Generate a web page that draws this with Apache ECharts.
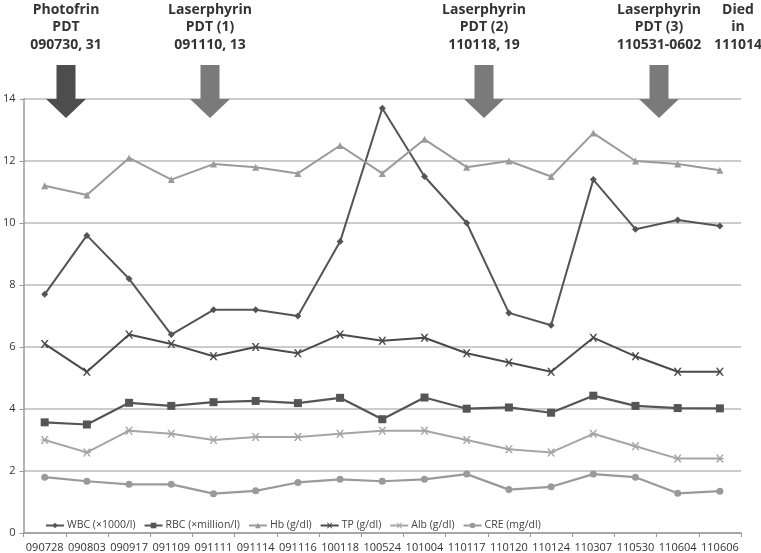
<!DOCTYPE html>
<html><head><meta charset="utf-8">
<script src="https://cdn.jsdelivr.net/npm/echarts@6/dist/echarts.min.js"></script>
<style>html,body{margin:0;padding:0;background:#fff}#c{width:761px;height:553px}</style>
</head><body><div id="c"></div>
<script>
var categories = ['090728','090803','090917','091109','091111','091114','091116','100118','100524','101004','110117','110120','110124','110307','110530','110604','110606'];
var wbc = [7.7,9.6,8.2,6.4,7.2,7.2,7.0,9.4,13.7,11.5,10.0,7.1,6.7,11.4,9.8,10.1,9.9];
var rbc = [3.57,3.5,4.2,4.1,4.22,4.26,4.19,4.36,3.67,4.37,4.01,4.05,3.88,4.43,4.1,4.03,4.02];
var hb = [11.2,10.9,12.1,11.4,11.9,11.8,11.6,12.5,11.6,12.7,11.8,12.0,11.5,12.9,12.0,11.9,11.7];
var tp = [6.1,5.2,6.4,6.1,5.7,6.0,5.8,6.4,6.2,6.3,5.8,5.5,5.2,6.3,5.7,5.2,5.2];
var alb = [3.0,2.6,3.3,3.2,3.0,3.1,3.1,3.2,3.3,3.3,3.0,2.7,2.6,3.2,2.8,2.4,2.4];
var cre = [1.8,1.67,1.57,1.57,1.27,1.36,1.63,1.73,1.67,1.73,1.9,1.4,1.49,1.9,1.8,1.28,1.35];
var seriesNames = ['WBC (×1000/l)','RBC (×million/l)','Hb (g/dl)','TP (g/dl)','Alb (g/dl)','CRE (mg/dl)'];
var annotations = [
  {x:66, lines:['Photofrin','PDT','090730, 31'], arrow:true, color:'#4d4d4d'},
  {x:210, lines:['Laserphyrin','PDT (1)','091110, 13'], arrow:true, color:'#7a7a7a'},
  {x:484, lines:['Laserphyrin','PDT (2)','110118, 19'], arrow:true, color:'#7a7a7a'},
  {x:659, lines:['Laserphyrin','PDT (3)','110531-0602'], arrow:true, color:'#7a7a7a'},
  {x:738, lines:['Died','in','111014'], arrow:false}
];

var xSym = 'path://M0,0 L2.2,0 L5,3.6 L7.8,0 L10,0 L6.2,5 L10,10 L7.8,10 L5,6.4 L2.2,10 L0,10 L3.8,5 Z';
var astSym = 'path://M0,0 L2.2,0 L5,3.6 L7.8,0 L10,0 L6.2,5 L10,10 L7.8,10 L5,6.4 L2.2,10 L0,10 L3.8,5 Z M0,4.3 L10,4.3 L10,5.7 L0,5.7 Z';

var chart = echarts.init(document.getElementById('c'));
var graphics = [];
annotations.forEach(function(a){
  graphics.push({type:'text', style:{x:a.x, y:1, text:a.lines.join('\n'), fill:'#333', font:'bold 14px "Open Sans", sans-serif', lineHeight:17.5, align:'center', verticalAlign:'top'}});
  if (a.arrow) {
    graphics.push({type:'polygon', z:1, shape:{points:[[a.x-9.5,65],[a.x+9.5,65],[a.x+9.5,99],[a.x+20,99],[a.x,118],[a.x-20,99],[a.x-9.5,99]]}, style:{fill:a.color}});
  }
});

function mk(name, data, color, symbol, size, width){
  return {name:name, type:'line', data:data, symbol:symbol, symbolSize:size, showSymbol:true,
    lineStyle:{color:color, width:width}, itemStyle:{color:color}, z:3};
}
chart.setOption({
  animation:false,
  backgroundColor:'#fff',
  grid:{left:22, right:20, top:99, bottom:20},
  graphic:graphics,
  legend:{left:40, top:515, itemWidth:18, itemHeight:7, itemGap:8,
    textStyle:{fontSize:10.5, color:'#444', fontFamily:'"Open Sans", sans-serif', padding:[0,0,0,-2]},
    data:seriesNames},
  xAxis:{type:'category', data:categories, boundaryGap:true,
    axisLine:{lineStyle:{color:'#999', width:1.5}},
    axisTick:{show:true, lineStyle:{color:'#999'}, length:4},
    axisLabel:{color:'#333', fontSize:11, margin:9, interval:0, fontFamily:'"Open Sans", sans-serif'}},
  yAxis:{type:'value', min:0, max:14, interval:2,
    axisLine:{show:true, lineStyle:{color:'#999', width:1.5}},
    axisTick:{show:true, length:4, lineStyle:{color:'#999'}},
    splitLine:{lineStyle:{color:'#bbb', width:1.5}},
    axisLabel:{color:'#333', fontSize:11, margin:8, fontFamily:'"Open Sans", sans-serif'}},
  series:[
    mk(seriesNames[0], wbc, '#555', 'diamond', 7, 2),
    mk(seriesNames[1], rbc, '#555', 'rect', 8, 2.2),
    mk(seriesNames[2], hb, '#9a9a9a', 'triangle', 7, 2),
    mk(seriesNames[3], tp, '#4a4a4a', xSym, 8, 2),
    mk(seriesNames[4], alb, '#a5a5a5', astSym, 8, 2),
    mk(seriesNames[5], cre, '#9a9a9a', 'circle', 7, 2.2)
  ]
});
</script></body></html>
